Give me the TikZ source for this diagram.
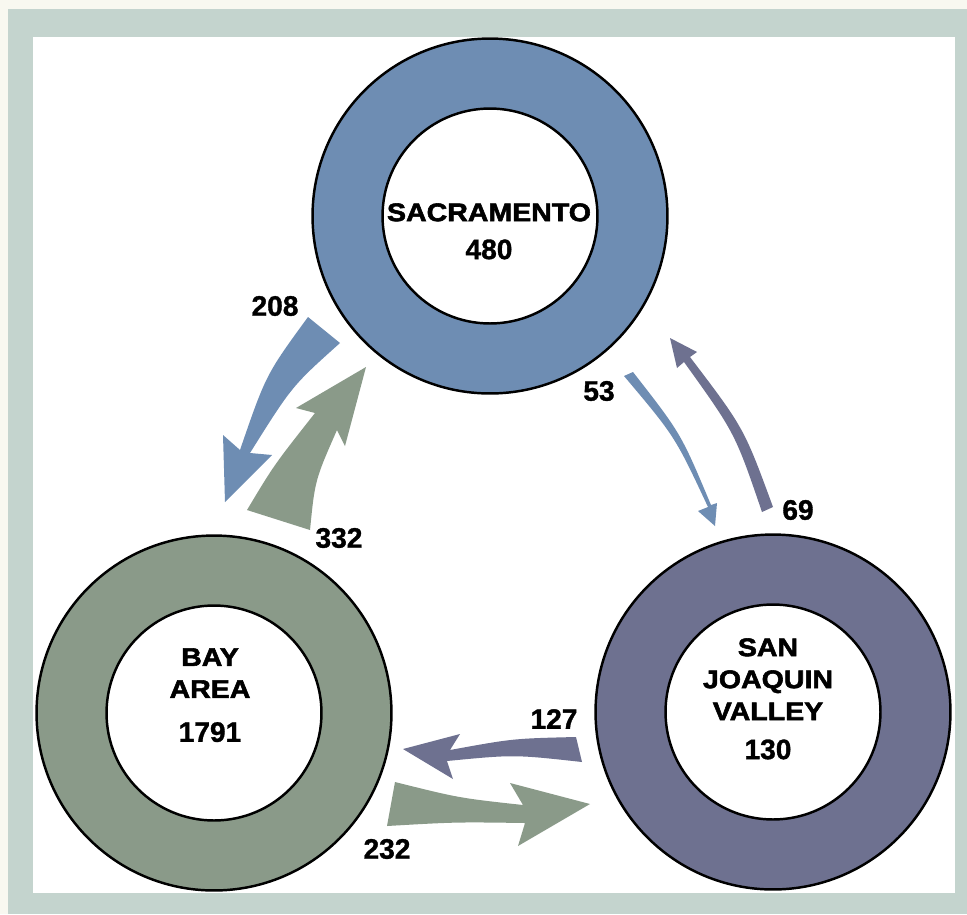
\documentclass[tikz,border=0pt]{standalone}
\usepackage{fontspec}
\setmainfont{Liberation Sans}
\newfontfamily\namefont[UprightFont=* Bold,FakeStretch=1.12,FakeBold=2.2]{Liberation Sans}
\newfontfamily\numfont[UprightFont=* Bold,FakeBold=1.2]{Liberation Sans}
\definecolor{cream}{HTML}{F8F8F0}
\definecolor{frame}{HTML}{C4D4CE}
\definecolor{sacblue}{HTML}{6E8DB3}
\definecolor{baygreen}{HTML}{8A9A89}
\definecolor{sjvpurple}{HTML}{6E7190}
\newcommand{\cnt}[1]{{\numfont\fontsize{16}{19}\selectfont #1}}
\tikzset{
 ring/.style={circle,draw=black,line width=1.4pt,inner sep=0pt,minimum size=7.1cm},
 hole/.style={circle,draw=black,line width=1.4pt,fill=white,inner sep=0pt,minimum size=4.3cm},
 place/.style={align=center,inner sep=0pt,anchor=north,font=\namefont\fontsize{14.5}{18.2}\selectfont},
 flow/.style={inner sep=0pt,font=\numfont\fontsize{16}{19}\selectfont}
}
\begin{document}
\begin{tikzpicture}[x=0.02cm,y=-0.02cm]

\fill[cream](0,0)rectangle(967,914);
\fill[frame](8,9)rectangle(967,914);
\fill[white](33,37)rectangle(955,893);

\node[ring,fill=sacblue](sac)at(490,216){};
\node[hole](sachole)at(sac){};
\node[ring,fill=baygreen](bay)at(214,713){};
\node[hole](bayhole)at(bay){};
\node[ring,fill=sjvpurple](sjv)at(773,712){};
\node[hole](sjvhole)at(sjv){};

\node[place](sactxt)at(489,203){SACRAMENTO\\[3.4pt]\cnt{480}};
\node[place](baytxt)at(210,648){BAY\\AREA\\[6.8pt]\cnt{1791}};
\node[place](sjvtxt)at(768,638){SAN\\JOAQUIN\\VALLEY\\[4pt]\cnt{130}};

\fill[sacblue](308,317).. controls (266,374.5) ..(240,450)--(223,435)--(225,502)--(272,455)
	--(250,453).. controls (292,386) ..(340,343)--cycle;
\fill[baygreen](247,510).. controls (274,465) ..(315,413)--(296,408)--(366,367)--(345,446)
	--(337,430).. controls (315,480) ..(310,530)--cycle;
\fill[sacblue](624,376).. controls (675,436.5) ..(708,507)--(698,511)--(715,526)--(717,503)
	--(711,505).. controls (681,433.5) ..(633,372)--cycle;
\fill[sjvpurple](762,512).. controls (735,433) ..(684,362)--(677,368)--(670,338)--(697,352)
	--(690,357).. controls (744,428) ..(773,507)--cycle;
\fill[sjvpurple](576,737).. controls (513,738.5) ..(450,750)--(460,734)--(403,749)--(453,779)
	--(447,761).. controls (514,754.5) ..(582,762)--cycle;
\fill[baygreen](395,782).. controls (459,798) ..(523,805)--(510,783)--(590,804)--(518,846)
	--(525,823).. controls (456,822) ..(387,826)--cycle;

\node[flow](n208)at(275,306){208};
\node[flow](n332)at(339,538){332};
\node[flow](n53)at(599,391){53};
\node[flow](n69)at(798,510){69};
\node[flow](n127)at(554,719){127};
\node[flow](n232)at(387,849){232};

\end{tikzpicture}
\end{document}
